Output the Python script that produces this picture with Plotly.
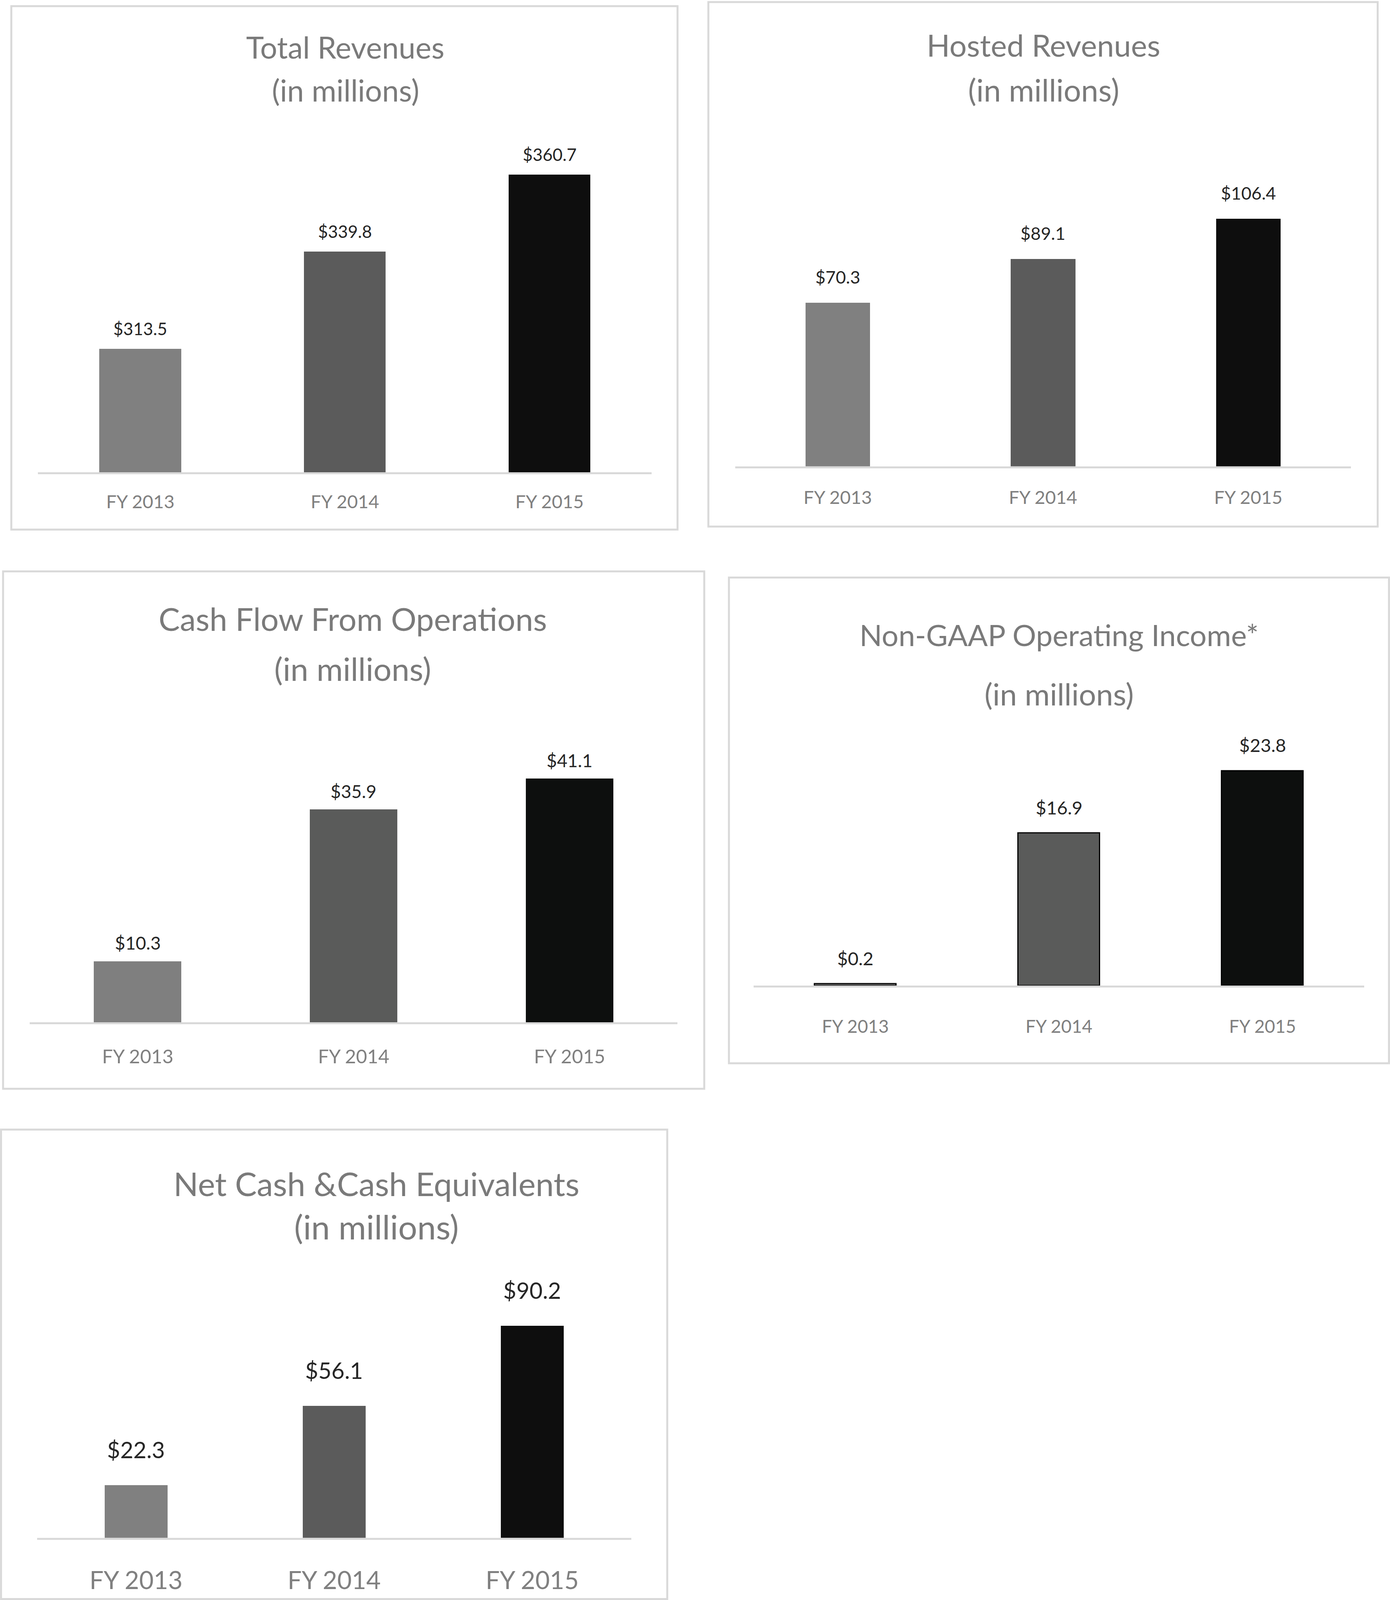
import plotly.graph_objects as go

# ---------------- data ----------------
categories = ["FY 2013", "FY 2014", "FY 2015"]
total_revenues = [313.5, 339.8, 360.7]
hosted_revenues = [70.3, 89.1, 106.4]
cash_flow_ops = [10.3, 35.9, 41.1]
non_gaap_income = [0.2, 16.9, 23.8]
net_cash = [22.3, 56.1, 90.2]

titles = [
    ("Total Revenues", "(in millions)"),
    ("Hosted Revenues", "(in millions)"),
    ("Cash Flow From Operations", "(in millions)"),
    ("Non-GAAP Operating Income*", "(in millions)"),
    ("Net Cash &Cash Equivalents", "(in millions)"),
]
series = [total_revenues, hosted_revenues, cash_flow_ops, non_gaap_income, net_cash]

# ---------------- layout helpers ----------------
W, H = 3558, 4125
DW, DH = 1352.0, 1568.0  # layout grid units


def fx(v):
    return v / DW


def fy(v):
    return 1 - v / DH


LATO = "Lato, Carlito, sans-serif"
GREY_COLORS = ["#808080", "#5b5b5b", "#0e0e0e"]
GREY_COLORS2 = ["#7f7f7f", "#5a5b5a", "#0d0f0e"]

panels = [
    dict(box=(11, 6, 659, 519), xdom=(37, 634), base=463, top=137.4, yr=(280, 370),
         bw=0.40, colors=GREY_COLORS, tcx=336, t1y=46, t2y=88, tf1=77, tf2=77, lf=44,
         lshift=52, kf=47, stand=30, outline=0),
    dict(box=(689, 2, 1340, 516), xdom=(715, 1314), base=457, top=183.4, yr=(0, 120),
         bw=0.315, colors=GREY_COLORS, tcx=1015, t1y=44, t2y=88, tf1=78, tf2=79, lf=45,
         lshift=66, kf=47, stand=35, outline=0),
    dict(box=(3, 560, 685, 1067), xdom=(29, 659), base=1002, top=740.3, yr=(0, 45),
         bw=0.405, colors=GREY_COLORS2, tcx=343, t1y=606, t2y=655, tf1=81.5, tf2=82, lf=46,
         lshift=47, kf=49, stand=41, outline=0),
    dict(box=(709, 566, 1351, 1042), xdom=(733, 1327), base=966, top=744.75, yr=(0, 25),
         bw=0.40, colors=GREY_COLORS2, tcx=1030, t1y=622, t2y=680, tf1=76, tf2=78, lf=47,
         lshift=66, kf=46, stand=60, outline=3),
    dict(box=(1, 1107, 649, 1567), xdom=(36, 614), base=1507, top=1276.7, yr=(0, 100),
         bw=0.316, colors=GREY_COLORS, tcx=366, t1y=1160, t2y=1202, tf1=83.5, tf2=86, lf=58,
         lshift=92, kf=64, stand=50, outline=0),
]

fig = go.Figure()
shapes = []
annotations = []
layout_axes = {}

for i, (p, vals, (t1, t2)) in enumerate(zip(panels, series, titles), start=1):
    xa = "x" if i == 1 else f"x{i}"
    ya = "y" if i == 1 else f"y{i}"
    fig.add_trace(go.Bar(
        x=categories, y=vals, xaxis=xa, yaxis=ya,
        width=p["bw"],
        marker=dict(color=p["colors"],
                    line=dict(color="#000000", width=p["outline"])),
        hoverinfo="x+y", showlegend=False,
    ))
    key = "" if i == 1 else str(i)
    layout_axes[f"xaxis{key}"] = dict(
        domain=[fx(p["xdom"][0]), fx(p["xdom"][1])],
        anchor=ya, type="category", range=[-0.5, 2.5],
        showline=True, linecolor="#d9d9d9", linewidth=5,
        showgrid=False, zeroline=False, ticks="",
        ticklabelstandoff=p["stand"],
        tickfont=dict(family=LATO, size=p["kf"], color="#808080"),
        fixedrange=True,
    )
    layout_axes[f"yaxis{key}"] = dict(
        domain=[fy(p["base"]), fy(p["top"])],
        anchor=xa, range=list(p["yr"]), visible=False,
        showgrid=False, zeroline=False, fixedrange=True,
    )
    x0, y0, x1, y1 = p["box"]
    shapes.append(dict(type="rect", xref="paper", yref="paper",
                       x0=fx(x0), x1=fx(x1), y0=fy(y1), y1=fy(y0),
                       line=dict(color="#d9d9d9", width=5), layer="below"))
    for txt, ty, tf in ((t1, p["t1y"], p["tf1"]), (t2, p["t2y"], p["tf2"])):
        annotations.append(dict(text=txt, xref="paper", yref="paper",
                                x=fx(p["tcx"]), y=fy(ty), xanchor="center",
                                yanchor="middle", showarrow=False,
                                font=dict(family=LATO, size=tf, color="#7a7a7a")))
    for c, v in zip(categories, vals):
        annotations.append(dict(text=f"${v:.1f}", xref=xa, yref=ya, x=c, y=v,
                                xanchor="center", yanchor="middle", yshift=p["lshift"],
                                showarrow=False,
                                font=dict(family=LATO, size=p["lf"], color="#262626")))

fig.update_layout(
    width=W, height=H, autosize=False,
    margin=dict(l=0, r=0, t=0, b=0, pad=0),
    paper_bgcolor="#ffffff", plot_bgcolor="rgba(0,0,0,0)",
    bargap=0, shapes=shapes, annotations=annotations,
    **layout_axes,
)

# fit the figure into the visible page area so nothing at the bottom is cut off
post = (
    "document.documentElement.style.overflow='hidden';"
    "document.body.style.overflow='hidden';"
    "document.body.style.margin='0';document.body.style.padding='0';"
    "var gd=document.getElementById('{plot_id}');"
    "var vw=window.innerWidth, vh=window.innerHeight;"
    "if (vw > 2000 && vh > 2000 && (vw < %d || vh < %d)) {"
    "  Plotly.relayout(gd, {width: Math.min(vw, %d), height: Math.min(vh, %d)});"
    "}" % (W, H, W, H)
)

fig.write_html("out.html", config={"displayModeBar": False}, post_script=post)
